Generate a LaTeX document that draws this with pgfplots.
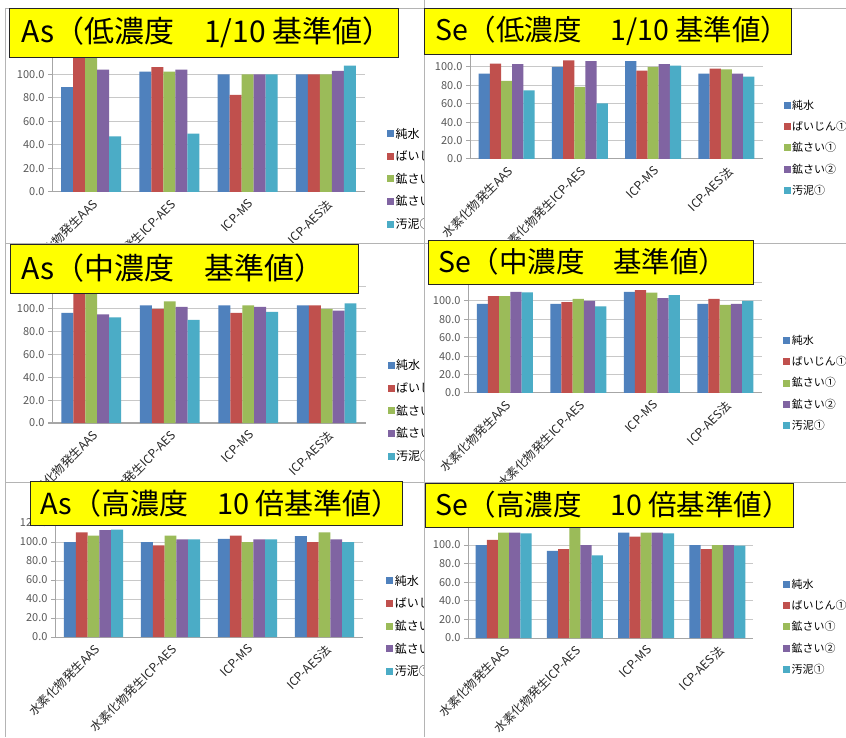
\documentclass[border=0pt]{standalone}
\usepackage{pgfplots}
\pgfplotsset{compat=1.18}
\usepackage{pgfplotstable}
\usepackage{fontspec}
\setmainfont{Noto Sans CJK JP}
\definecolor{c1}{HTML}{4F81BD}
\definecolor{c2}{HTML}{C0504D}
\definecolor{c3}{HTML}{9BBB59}
\definecolor{c4}{HTML}{8064A2}
\definecolor{c5}{HTML}{4BACC6}
\definecolor{gridc}{HTML}{C8C8C8}
\definecolor{axc}{HTML}{A6A6A6}
\definecolor{tickc}{HTML}{595959}
\definecolor{ttl}{HTML}{FFFF00}
\definecolor{framec}{HTML}{B4B4B4}

\pgfplotstableread{
x a b c d e
0 89.2 130 130 104.2 47.3
1 102.5 106.2 102.5 104.2 49.6
2 100 82.7 100 100 100
3 100 100 100 103.1 107.6
}\AsLow
\pgfplotstableread{
x a b c d e
0 92.8 103.6 84.9 103.2 74.5
1 100 107.2 78.4 106.5 60.4
2 106.5 96 100 103.2 101.4
3 92.8 98.2 97.5 92.8 89.6
}\SeLow
\pgfplotstableread{
x a b c d e
0 96.5 130 130 95.3 92.7
1 103.2 100 106.7 101.8 90.4
2 103.2 96.5 103.2 101.8 97.4
3 103.2 103.2 100 98.5 105
}\AsMid
\pgfplotstableread{
x a b c d e
0 96.8 105.4 105.4 110 109.4
1 96.8 98.9 102.2 100 94.2
2 110 111.9 109 103.2 106.5
3 96.8 102.2 95.7 96.8 100
}\SeMid
\pgfplotstableread{
x a b c d e
0 100 110.2 106.7 112.6 113
1 100 96.5 106.7 102.8 102.8
2 103.2 106.7 100 102.8 102.8
3 106.3 100 110.2 102.8 100
}\AsHigh
\pgfplotstableread{
x a b c d e
0 100 105.4 113.2 113.2 112.5
1 93.6 95.7 130 100 88.9
2 113.2 108.9 113.2 113.2 112.5
3 100 95.7 100 100 99.3
}\SeHigh

\pgfplotsset{
  panel/.style={
    scale only axis,
    anchor=south west,
    ybar=0pt,
    ymin=0, ymax=120,
    xmin=-0.5, xmax=3.5,
    xtick={0,1,2,3},
    xticklabels={水素化物発生AAS,水素化物発生ICP-AES,ICP-MS,ICP-AES法},
    ytick={0,20,...,100},
    extra y ticks={120},
    extra y tick labels={},
    extra y tick style={grid=major},
    ymajorgrids,
    grid style={gridc, line width=1pt},
    axis x line*=bottom, axis y line*=left,
    axis line style={axc, line width=1pt, -},
    tick align=outside,
    major tick length=4pt,
    ytick style={axc, line width=1pt},
    xtick style={draw=none},
    yticklabel style={font=\fontsize{11}{13}\selectfont, text=tickc, /pgf/number format/.cd, fixed, fixed zerofill, precision=1, assume math mode=true},
    xticklabel style={font=\fontsize{12}{14}\selectfont, text=black!85, rotate=45, anchor=north east, inner sep=1.5pt},
    legend style={draw=none, fill=none, anchor=west, legend cell align=left, inner sep=0pt, nodes={inner sep=1.5pt}},
    legend image code/.code={\fill[##1] (0pt,-3.5pt) rectangle (7pt,3.5pt);},
    every axis plot/.append style={draw=none},
  },
  leftleg/.style={legend style={font=\fontsize{12}{14}\selectfont, row sep=8pt}},
  rightleg/.style={legend style={font=\fontsize{11}{13}\selectfont, row sep=7.5pt}},
}

\newcommand{\series}[1]{%
  \addplot[fill=c1] table[x=x,y=a]{#1};
  \addplot[fill=c2] table[x=x,y=b]{#1};
  \addplot[fill=c3] table[x=x,y=c]{#1};
  \addplot[fill=c4] table[x=x,y=d]{#1};
  \addplot[fill=c5] table[x=x,y=e]{#1};
  \legend{純水,ばいじん①,鉱さい①,鉱さい②,汚泥①}
}

\begin{document}
\begin{tikzpicture}[x=1pt,y=1pt]
\path[use as bounding box] (0,0) rectangle (846,737);
\fill[white] (0,0) rectangle (846,737);

% TL
\begin{scope}
\clip (0,494) rectangle (424,737);
\begin{axis}[panel, leftleg, at={(52pt,545pt)}, width=313pt, height=141pt, bar width=12pt,
  legend style={at={(1.07,0.092)}}]
\series{\AsLow}
\end{axis}
\end{scope}
% TR
\begin{scope}
\clip (424,494) rectangle (846,737);
\begin{axis}[panel, rightleg, at={(470pt,578pt)}, width=293pt, height=110.4pt, bar width=11.2pt,
  legend style={at={(1.07,0.10)}}]
\series{\SeLow}
\end{axis}
\end{scope}
% ML
\begin{scope}
\clip (0,255) rectangle (424,494);
\begin{axis}[panel, leftleg, at={(52pt,314pt)}, width=314pt, height=136.8pt, bar width=11.9pt,
  legend style={at={(1.068,0.088)}}]
\series{\AsMid}
\end{axis}
\end{scope}
% MR
\begin{scope}
\clip (424,255) rectangle (846,494);
\begin{axis}[panel, rightleg, at={(468pt,344pt)}, width=294pt, height=110.4pt, bar width=11.2pt,
  legend style={at={(1.072,0.09)}}]
\series{\SeMid}
\end{axis}
\end{scope}
% BL
\begin{scope}
\clip (0,0) rectangle (424,255);
\begin{axis}[panel, leftleg, at={(55pt,100pt)}, width=308pt, height=114pt, bar width=11.8pt,
  ytick={0,20,...,120}, extra y ticks={},
  legend style={at={(1.075,0.096)}}]
\series{\AsHigh}
\end{axis}
\end{scope}
% BR
\begin{scope}
\clip (424,0) rectangle (846,255);
\begin{axis}[panel, rightleg, at={(468pt,99pt)}, width=285pt, height=111.6pt, bar width=11.2pt,
  legend style={at={(1.105,0.10)}}]
\series{\SeHigh}
\end{axis}
\end{scope}

% frames
\draw[framec, line width=0.8pt] (5,729) -- (846,729);
\draw[framec, line width=0.8pt] (5,729) -- (5,0);
\draw[framec, line width=0.8pt] (424,737) -- (424,0);
\draw[framec, line width=0.8pt] (5,494) -- (846,494);
\draw[framec, line width=0.8pt] (5,255) -- (846,255);

% titles
\tikzset{tbox/.style={fill=ttl, draw=black!85, line width=0.9pt}, ttext/.style={anchor=west, inner sep=0pt}}
\draw[tbox] (9,729) rectangle (398,680);
\node[ttext, font=\fontsize{30}{32}\selectfont] at (21,704.5) {As（低濃度　1/10 基準値）};
\draw[tbox] (424,729) rectangle (791,683);
\node[ttext, font=\fontsize{28.5}{30}\selectfont] at (435,706) {Se（低濃度　1/10 基準値）};
\draw[tbox] (10,493) rectangle (358,444);
\node[ttext, font=\fontsize{30}{32}\selectfont] at (21,468.5) {As（中濃度　基準値）};
\draw[tbox] (428,497) rectangle (753,453);
\node[ttext, font=\fontsize{28.5}{30}\selectfont] at (438,475) {Se（中濃度　基準値）};
\draw[tbox] (30,256) rectangle (402,212);
\node[ttext, font=\fontsize{29}{31}\selectfont] at (40,234) {As（高濃度　10 倍基準値）};
\draw[tbox] (425,254) rectangle (793,210);
\node[ttext, font=\fontsize{28.5}{30}\selectfont] at (435,232) {Se（高濃度　10 倍基準値）};
\end{tikzpicture}
\end{document}
